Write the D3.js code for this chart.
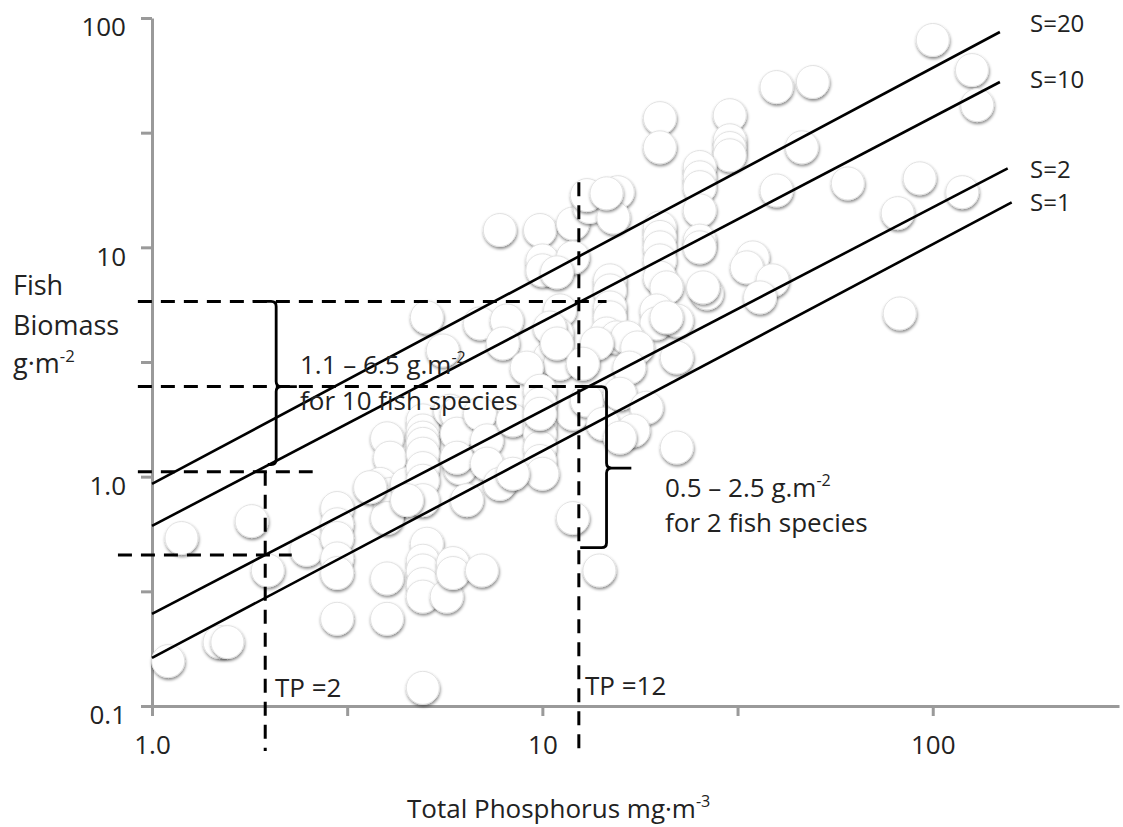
<!DOCTYPE html>
<html>
<head>
<meta charset="utf-8">
<script src="https://cdn.jsdelivr.net/npm/d3@7"></script>
<style>
  html, body { margin: 0; padding: 0; background: #fff; }
  svg { display: block; }
  text { font-family: "Open Sans", "DejaVu Sans", sans-serif; fill: #222; }
</style>
</head>
<body>
<svg id="chart" width="1123" height="827"></svg>
<script>
// ---------------- DATA ----------------
const xTicks = [1, 3.162, 10, 31.62, 100];
const xTickLabels = ["1.0", "", "10", "", "100"];
const yTicks = [0.1, 0.3162, 1, 3.162, 10, 31.62, 100];
const yTickLabels = ["0.1", "", "1.0", "", "10", "", "100"];

// lakes: total phosphorus (mg m-3) and fish biomass (g m-2)
const lakeTP = [
  1.10, 1.19, 1.49, 1.56, 1.80, 1.98, 2.49, 2.98, 2.98, 2.98, 2.98, 2.98, 2.98,
  4.00, 4.07, 3.84, 4.07, 4.07, 4.00, 4.50, 4.94, 4.94, 4.94, 4.94, 4.94, 4.94,
  4.94, 4.94, 5.06, 4.94, 4.94, 4.94, 4.94, 5.69, 5.90, 5.90, 6.15, 6.41, 4.00,
  4.00, 4.94, 6.26, 5.80, 7.00, 6.04, 6.04, 6.04, 6.92, 7.21, 7.21, 7.78, 8.40,
  9.86, 9.86, 9.86, 9.86, 10.0, 11.97, 8.40, 5.06, 6.92, 8.11, 7.92, 11.1, 10.9,
  10.45, 11.1, 9.12, 5.56, 7.78, 9.86, 11.97, 13.2, 10.0, 10.0, 11.97, 13.0, 15.6,
  15.2, 20.0, 20.0, 30.2, 30.2, 30.2, 30.2, 46.2, 25.3, 25.3, 25.3, 39.8, 20.0,
  20.0, 20.0, 20.0, 25.3, 25.3, 25.3, 10.9, 20.0, 20.8, 26.4, 34.6, 33.4, 38.9,
  36.1, 14.9, 14.9, 14.9, 14.9, 10.45, 10.9, 19.6, 19.6, 22.1, 14.6, 15.5, 16.5,
  13.8, 17.5, 22.1, 12.7, 16.7, 9.86, 9.86, 9.86, 13.0, 15.8, 18.5, 14.3, 17.1,
  15.8, 22.1, 100, 126, 130, 39.8, 49.3, 60.6, 92.6, 119, 81.3, 14.6, 25.8, 20.8,
  82.3, 3.62, 4.50, 11.97, 14.0
];
const lakeBiomass = [
  0.157, 0.54, 0.19, 0.19, 0.64, 0.39, 0.48, 0.73, 0.62, 0.54, 0.44, 0.38, 0.24,
  1.47, 1.21, 0.93, 0.84, 0.73, 0.66, 0.93, 1.76, 1.59, 1.48, 1.39, 1.26, 1.09,
  0.96, 0.79, 0.51, 0.43, 0.39, 0.34, 0.30, 0.30, 0.42, 0.38, 1.09, 0.79, 0.36,
  0.24, 0.12, 1.39, 1.94, 0.39, 1.88, 1.54, 1.21, 1.88, 1.44, 1.14, 0.93, 1.76,
  1.70, 1.54, 1.34, 1.17, 1.03, 1.88, 1.03, 4.95, 4.66, 4.80, 3.81, 5.31, 4.21,
  3.31, 3.11, 2.99, 3.55, 11.9, 11.9, 12.7, 15.0, 8.77, 7.94, 9.04, 16.9, 17.4,
  13.5, 36.6, 27.3, 37.7, 29.3, 27.1, 25.2, 27.3, 22.4, 20.2, 18.3, 17.7, 12.2,
  11.1, 10.0, 8.77, 14.5, 10.7, 10.0, 7.78, 7.39, 6.69, 6.30, 9.04, 8.18, 7.18,
  6.05, 7.18, 6.49, 5.47, 4.95, 4.47, 3.81, 5.31, 4.66, 4.80, 4.21, 4.05, 4.05,
  3.81, 3.66, 3.31, 3.11, 2.99, 2.37, 2.08, 1.88, 2.15, 2.30, 2.00, 1.70, 1.59,
  1.48, 1.34, 80.2, 59.3, 41.7, 50.0, 52.6, 19.0, 20.0, 17.4, 14.1, 17.2, 6.69, 4.95,
  5.15, 0.90, 0.79, 0.66, 0.39
];

// species-richness lines (start and end points)
const speciesLabels = ["S=20", "S=10", "S=2", "S=1"];
const speciesStartTP = [1, 1, 1, 1];
const speciesStartB  = [0.93, 0.61, 0.252, 0.162];
const speciesEndTP   = [148.6, 148.6, 155.6, 159.3];
const speciesEndB    = [86.9, 52.6, 22.1, 15.7];

// dashed reference lines
const dashHFromTP = [0.92, 0.92, 0.92, 0.818];
const dashHToTP   = [14.6, 13.2, 2.58, 2.28];
const dashHB      = [5.81, 2.47, 1.05, 0.456];
const dashVTP     = [1.95, 12.4];
const dashVTopB   = [1.05, 19.2];
const dashVBotB   = [0.0636, 0.0636];

// braces: [stem TP, top hook TP, bottom hook TP, tip TP, top B, middle B, bottom B]
const braceLeft  = [2.08, 1.81, 1.98, 2.35, 5.81, 2.47, 1.13];
const braceRight = [14.6, 12.6, 12.5, 16.9, 2.47, 1.09, 0.49];

// ---------------- CHART ----------------
const svg = d3.select("#chart");
const x = d3.scaleLog().domain([1, 300]).range([152, 1119]);
const y = d3.scaleLog().domain([0.1, 100]).range([706, 18]);

const defs = svg.append("defs");
const f = defs.append("filter").attr("id", "shadow")
  .attr("x", "-30%").attr("y", "-30%").attr("width", "160%").attr("height", "160%");
f.append("feDropShadow").attr("dx", 0.6).attr("dy", 2).attr("stdDeviation", 1.4)
  .attr("flood-color", "#000").attr("flood-opacity", 0.45);

// axes
const axisColor = "#9a9a9a";
const gx = svg.append("g").attr("transform", "translate(0,706)")
  .call(d3.axisBottom(x).tickValues(xTicks).tickFormat((d, i) => xTickLabels[i])
    .tickSize(10).tickSizeOuter(0).tickPadding(20));
const gy = svg.append("g").attr("transform", "translate(152,0)")
  .call(d3.axisLeft(y).tickValues(yTicks).tickFormat((d, i) => yTickLabels[i])
    .tickSize(11).tickSizeOuter(0).tickPadding(15));
[gx, gy].forEach(g => {
  g.select(".domain").attr("stroke", axisColor).attr("stroke-width", 3);
  g.selectAll(".tick line").attr("stroke", axisColor).attr("stroke-width", 3);
  g.selectAll(".tick text").attr("font-size", 26).attr("fill", "#222")
    .attr("font-family", "Open Sans");
  g.selectAll(".tick text").filter(function () { return this.textContent === ""; }).remove();
});
gy.selectAll(".tick text").attr("dy", "0.68em");

// bubbles
const pts = lakeTP.map((tp, i) => ({ tp, b: lakeBiomass[i] }));
svg.append("g").selectAll("circle").data(pts).join("circle")
  .attr("cx", d => x(d.tp)).attr("cy", d => y(d.b)).attr("r", 16.5)
  .attr("fill", "#fff").attr("stroke", "#e2e2e2").attr("stroke-width", 1)
  .attr("filter", "url(#shadow)");

// species lines
const line = d3.line().x(d => x(d[0])).y(d => y(d[1]));
speciesLabels.forEach((lab, i) => {
  svg.append("path")
    .attr("d", line([[speciesStartTP[i], speciesStartB[i]], [speciesEndTP[i], speciesEndB[i]]]))
    .attr("stroke", "#000").attr("stroke-width", 2.6).attr("fill", "none");
});
const sLabelY = [32, 88, 178, 211];
speciesLabels.forEach((lab, i) => {
  svg.append("text").attr("x", 1030).attr("y", sLabelY[i]).attr("font-size", 24).text(lab);
});

// dashed lines
const dashStyle = s => s.attr("stroke", "#000").attr("stroke-width", 3)
  .attr("stroke-dasharray", "14,9").attr("fill", "none");
dashHB.forEach((b, i) => {
  svg.append("path").attr("d", line([[dashHFromTP[i], b], [dashHToTP[i], b]])).call(dashStyle);
});
dashVTP.forEach((tp, i) => {
  svg.append("path").attr("d", line([[tp, dashVTopB[i]], [tp, dashVBotB[i]]])).call(dashStyle);
});

// braces
function bracePath(b) {
  const sx = x(b[0]), hTop = x(b[1]), hBot = x(b[2]), tx = x(b[3]);
  const ty = y(b[4]), my = y(b[5]), by = y(b[6]);
  const r = 5;
  const p = d3.path();
  p.moveTo(hTop, ty);
  p.lineTo(sx - r, ty);
  p.quadraticCurveTo(sx, ty, sx, ty + r);
  p.lineTo(sx, my - r);
  p.quadraticCurveTo(sx, my, sx + r, my);
  p.lineTo(tx, my);
  p.moveTo(sx + r, my);
  p.quadraticCurveTo(sx, my, sx, my + r);
  p.lineTo(sx, by - r);
  p.quadraticCurveTo(sx, by, sx - r, by);
  p.lineTo(hBot, by);
  return p.toString();
}
[braceLeft, braceRight].forEach(b => {
  svg.append("path").attr("d", bracePath(b)).attr("stroke", "#000")
    .attr("stroke-width", 2.8).attr("fill", "none").attr("stroke-linejoin", "round");
});

// annotation texts
function richText(xp, yp, parts, size) {
  const t = svg.append("text").attr("x", xp).attr("y", yp).attr("font-size", size);
  parts.forEach(p => {
    if (p.sup) {
      t.append("tspan").attr("dy", -11).attr("font-size", size * 0.62).text(p.sup);
    } else {
      t.append("tspan").text(p.t);
    }
  });
  return t;
}
richText(300, 374, [{ t: "1.1 \u2013 6.5 g.m" }, { sup: "-2" }], 26);
richText(300, 410, [{ t: "for 10 fish species" }], 26);
richText(665, 497, [{ t: "0.5 \u2013 2.5 g.m" }, { sup: "-2" }], 26);
richText(665, 532, [{ t: "for 2 fish species" }], 26);
richText(275, 697, [{ t: "TP =2" }], 26);
richText(585, 695, [{ t: "TP =12" }], 26);

// axis titles
richText(13, 295, [{ t: "Fish" }], 27);
richText(13, 335, [{ t: "Biomass" }], 27);
richText(13, 373, [{ t: "g\u00b7m" }, { sup: "-2" }], 27);
richText(407, 818, [{ t: "Total Phosphorus mg\u00b7m" }, { sup: "-3" }], 26);
</script>
</body>
</html>
